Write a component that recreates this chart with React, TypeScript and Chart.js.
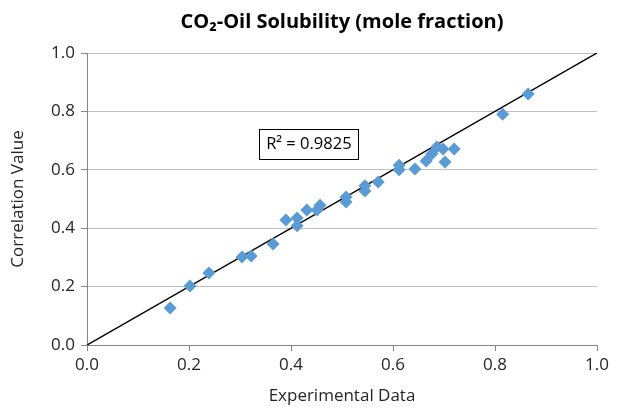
import React, { useEffect, useRef } from "react";
import { Chart, registerables } from "chart.js";

Chart.register(...registerables);

const experimental = [
  0.163, 0.202, 0.239, 0.304, 0.322, 0.365, 0.39, 0.412, 0.412, 0.431, 0.451, 0.457, 0.508, 0.508,
  0.545, 0.545, 0.571, 0.612, 0.612, 0.643, 0.665, 0.676, 0.686, 0.698, 0.702, 0.72, 0.815, 0.865,
];
const correlation = [
  0.127, 0.202, 0.247, 0.301, 0.305, 0.346, 0.428, 0.435, 0.408, 0.462, 0.462, 0.479, 0.507, 0.49,
  0.545, 0.527, 0.558, 0.616, 0.6, 0.603, 0.63, 0.654, 0.678, 0.671, 0.627, 0.671, 0.79, 0.86,
];
const identityX = [0, 1];
const identityY = [0, 1];
const titleText = "CO\u2082-Oil Solubility (mole fraction)";
const xTitle = "Experimental Data";
const yTitle = "Correlation Value";
const r2Label = "R\u00B2 = 0.9825";
const r2Anchor = [0.435, 0.69];

const FONT = "'Open Sans', sans-serif";
const TEXT = "#262626";

const r2Box = {
  id: "r2Box",
  afterDatasetsDraw(chart: any) {
    const { ctx, scales } = chart;
    const cx = scales.x.getPixelForValue(r2Anchor[0]);
    const cy = scales.y.getPixelForValue(r2Anchor[1]);
    ctx.save();
    ctx.font = `16.5px ${FONT}`;
    const w = ctx.measureText(r2Label).width + 14;
    const h = 30;
    ctx.fillStyle = "#ffffff";
    ctx.fillRect(cx - w / 2, cy - h / 2, w, h);
    ctx.strokeStyle = "#000000";
    ctx.lineWidth = 1;
    ctx.strokeRect(Math.round(cx - w / 2) + 0.5, Math.round(cy - h / 2) + 0.5, Math.round(w), h);
    ctx.fillStyle = "#000000";
    ctx.textAlign = "center";
    ctx.textBaseline = "middle";
    ctx.fillText(r2Label, cx, cy + 1);
    ctx.restore();
  },
};

export default function App() {
  const ref = useRef<HTMLCanvasElement>(null);
  useEffect(() => {
    if (!ref.current) return;
    const chart = new Chart(ref.current, {
      type: "scatter",
      data: {
        datasets: [
          {
            type: "line",
            label: "y = x",
            data: identityX.map((v, i) => ({ x: v, y: identityY[i] })),
            borderColor: "#000000",
            borderWidth: 1.5,
            pointRadius: 0,
            fill: false,
            order: 2,
          } as any,
          {
            label: "Data",
            data: experimental.map((v, i) => ({ x: v, y: correlation[i] })),
            pointStyle: "rectRot",
            pointRadius: 6.5,
            pointHoverRadius: 6.5,
            backgroundColor: "#5b9bd5",
            borderColor: "#5b9bd5",
            borderWidth: 0,
            order: 1,
          },
        ],
      },
      options: {
        responsive: false,
        animation: false,
        layout: { padding: { left: 0, right: 32, top: 0, bottom: 0 } },
        plugins: {
          legend: { display: false },
          tooltip: { enabled: false },
          title: {
            display: true,
            text: titleText,
            fullSize: false,
            color: "#000000",
            font: { family: FONT, size: 20, weight: "bold" },
            padding: { top: 10, bottom: 19 },
          },
        },
        scales: {
          x: {
            type: "linear",
            min: 0,
            max: 1,
            ticks: {
              stepSize: 0.2,
              color: TEXT,
              font: { family: FONT, size: 17 },
              padding: 4,
              callback: (v: any) => Number(v).toFixed(1),
            },
            grid: { drawOnChartArea: false, drawTicks: true, tickLength: 6, color: "#868686" },
            border: { color: "#868686", width: 1 },
            title: {
              display: true,
              text: xTitle,
              color: TEXT,
              font: { family: FONT, size: 17 },
              padding: { top: 0, bottom: 2 },
            },
            afterFit: (s: any) => {
              s.height = 63;
            },
          },
          y: {
            type: "linear",
            min: 0,
            max: 1,
            ticks: {
              stepSize: 0.2,
              color: TEXT,
              font: { family: FONT, size: 17 },
              padding: 6,
              callback: (v: any) => Number(v).toFixed(1),
            },
            grid: { color: "#bfbfbf", tickColor: "#868686", tickLength: 6, lineWidth: 1 },
            border: { color: "#868686", width: 1 },
            title: {
              display: true,
              text: yTitle,
              color: TEXT,
              font: { family: FONT, size: 17 },
              padding: { top: 8, bottom: 0 },
            },
            afterFit: (s: any) => {
              s.width = 87;
            },
          },
        },
      },
      plugins: [r2Box],
    });
    return () => chart.destroy();
  }, []);
  return (
    <div style={{ position: "fixed", left: 0, top: 0, width: 629, height: 408, background: "#fff" }}>
      <canvas ref={ref} width={629} height={408} />
    </div>
  );
}
